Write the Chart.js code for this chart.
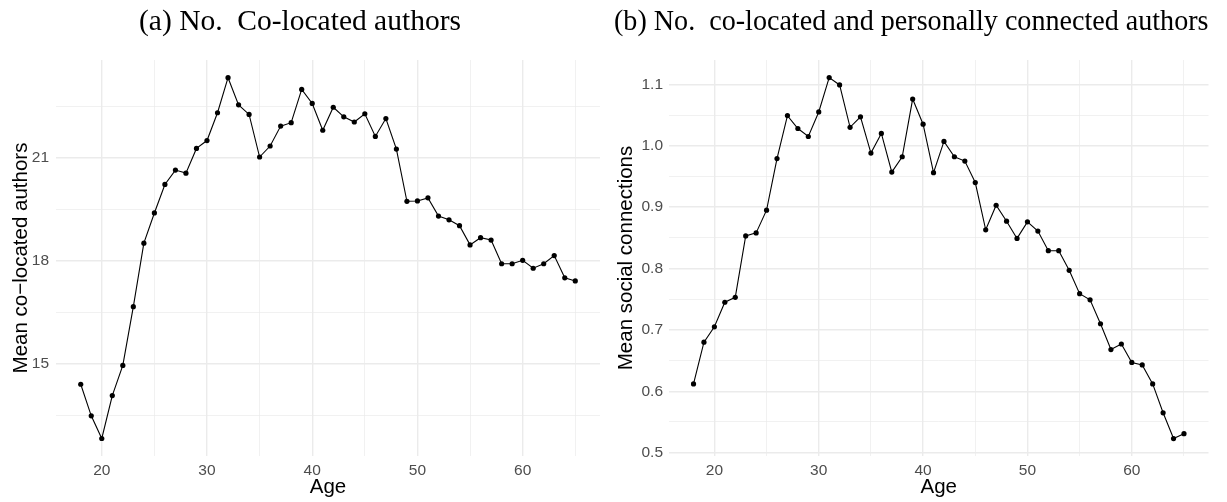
<!DOCTYPE html>
<html>
<head>
<meta charset="utf-8">
<script src="https://cdn.jsdelivr.net/npm/chart.js@4"></script>
<style>
  body { margin: 0; background: #fff; }
  #wrap { position: relative; width: 1227px; height: 502px; }
  .box { position: absolute; top: 0; height: 502px; }
</style>
</head>
<body>
<div id="wrap">
  <div class="box" style="left:0;width:614px"><canvas id="chartA"></canvas></div>
  <div class="box" style="left:614px;width:613px"><canvas id="chartB"></canvas></div>
</div>
<script>
const ages = [18, 19, 20, 21, 22, 23, 24, 25, 26, 27, 28, 29, 30, 31, 32, 33,
  34, 35, 36, 37, 38, 39, 40, 41, 42, 43, 44, 45, 46, 47, 48, 49,
  50, 51, 52, 53, 54, 55, 56, 57, 58, 59, 60, 61, 62, 63, 64, 65];

// (a) mean co-located authors
const coLocated = [14.40, 13.48, 12.82, 14.07, 14.95, 16.66, 18.51, 19.39, 20.22, 20.64, 20.55, 21.27, 21.50, 22.31, 23.33, 22.54,
  22.26, 21.02, 21.34, 21.92, 22.02, 22.99, 22.58, 21.80, 22.47, 22.19, 22.04, 22.28, 21.62, 22.14, 21.25, 19.73,
  19.74, 19.83, 19.30, 19.19, 19.02, 18.46, 18.67, 18.60, 17.91, 17.91, 18.01, 17.78, 17.91, 18.15, 17.50, 17.41];

// (b) mean social connections
const socialConn = [0.612, 0.680, 0.705, 0.745, 0.753, 0.853, 0.858, 0.895, 0.979, 1.049, 1.028, 1.015, 1.055, 1.111, 1.099, 1.030,
  1.047, 0.988, 1.020, 0.957, 0.982, 1.076, 1.035, 0.956, 1.007, 0.982, 0.975, 0.940, 0.863, 0.903, 0.877, 0.849,
  0.876, 0.861, 0.829, 0.829, 0.797, 0.759, 0.749, 0.710, 0.668, 0.677, 0.647, 0.643, 0.612, 0.565, 0.523, 0.531];

const xTicks = [20, 25, 30, 35, 40, 45, 50, 55, 60, 65];
const xLabels = [20, 30, 40, 50, 60];
const yTicksA = [13.5, 15, 16.5, 18, 19.5, 21, 22.5];
const yLabelsA = [15, 18, 21];
const yTicksB = [0.5, 0.55, 0.6, 0.65, 0.7, 0.75, 0.8, 0.85, 0.9, 0.95, 1.0, 1.05, 1.1];
const yLabelsB = [0.5, 0.6, 0.7, 0.8, 0.9, 1.0, 1.1];

const gridCol = '#ebebeb';
const tickFont = { family: 'Liberation Sans, Arial, sans-serif', size: 15.5 };
const axisFont = { family: 'Liberation Sans, Arial, sans-serif', size: 20.5 };
const titleSize = 29.5;

function isIn(list, v) {
  return list.some(t => Math.abs(t - v) < 1e-6);
}

function makeChart(id, opts) {
  const pts = ages.map((a, i) => ({ x: a, y: opts.values[i] }));
  return new Chart(document.getElementById(id), {
    type: 'line',
    data: {
      datasets: [{
        data: pts,
        borderColor: '#000',
        borderWidth: 1.1,
        backgroundColor: '#000',
        pointRadius: 2.6,
        pointBorderWidth: 0,
        tension: 0,
        fill: false
      }]
    },
    options: {
      responsive: true,
      maintainAspectRatio: false,
      animation: false,
      layout: { padding: { left: 0, right: opts.padRight, top: 0, bottom: 0 } },
      plugins: {
        legend: { display: false },
        tooltip: { enabled: false },
        title: {
          display: true,
          text: opts.title,
          color: '#000',
          font: { family: 'Liberation Serif, Times New Roman, serif', size: titleSize, weight: 'normal' },
          padding: { top: 5, bottom: 60 - 5 - titleSize * 1.2 }
        }
      },
      scales: {
        x: {
          type: 'linear',
          min: 15.65,
          max: 67.35,
          afterFit: s => { s.height = 46; },
          afterBuildTicks: s => { s.ticks = xTicks.map(v => ({ value: v })); },
          border: { display: false },
          grid: {
            color: gridCol,
            drawTicks: false,
            lineWidth: c => isIn(xLabels, c.tick.value) ? 1.4 : 0.7
          },
          ticks: {
            autoSkip: false,
            maxRotation: 0,
            padding: 5,
            color: '#4d4d4d',
            font: tickFont,
            callback: v => isIn(xLabels, v) ? String(v) : ''
          },
          title: { display: true, text: 'Age', color: '#000', font: axisFont, padding: { top: 0, bottom: 2 } }
        },
        y: {
          min: opts.yMin,
          max: opts.yMax,
          afterFit: s => { s.width = opts.axisWidth; },
          afterBuildTicks: s => { s.ticks = opts.yTicks.map(v => ({ value: v })); },
          border: { display: false },
          grid: {
            color: gridCol,
            drawTicks: false,
            lineWidth: c => isIn(opts.yLabels, c.tick.value) ? 1.4 : 0.7
          },
          ticks: {
            autoSkip: false,
            padding: opts.tickPad,
            color: '#4d4d4d',
            font: tickFont,
            callback: v => isIn(opts.yLabels, v) ? opts.fmt(v) : ''
          },
          title: { display: true, text: opts.yTitle, color: '#000', font: axisFont, padding: { top: opts.titlePad, bottom: 0 } }
        }
      }
    }
  });
}

makeChart('chartA', {
  values: coLocated,
  title: '(a) No.  Co-located authors',
  yTitle: 'Mean co\u2212located authors',
  yMin: 12.31, yMax: 23.846,
  yTicks: yTicksA, yLabels: yLabelsA,
  fmt: v => String(v),
  axisWidth: 56, padRight: 14, tickPad: 7, titlePad: 9
});

makeChart('chartB', {
  values: socialConn,
  title: '(b) No.  co-located and personally connected authors',
  yTitle: 'Mean social connections',
  yMin: 0.4946, yMax: 1.1396,
  yTicks: yTicksB, yLabels: yLabelsB,
  fmt: v => v.toFixed(1),
  axisWidth: 55, padRight: 18.5, tickPad: 6, titlePad: 0
});
</script>
</body>
</html>
